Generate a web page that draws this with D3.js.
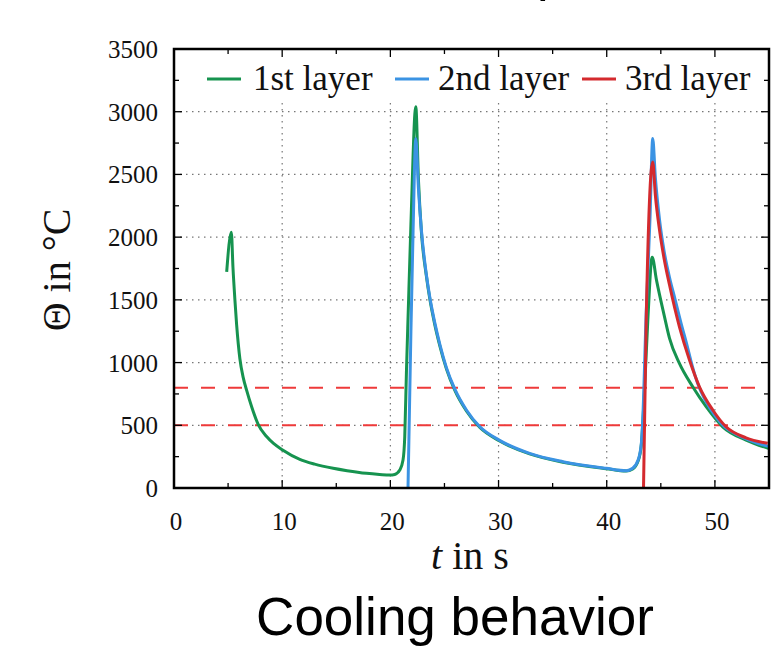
<!DOCTYPE html>
<html><head><meta charset="utf-8">
<script src="https://cdn.jsdelivr.net/npm/d3@7"></script>
<style>
body{margin:0;background:#fff;}
svg{display:block;}
</style>
</head><body>
<svg id="chart" width="771" height="646"></svg>
<script>
// ---------- data ----------
const seriesNames = ["1st layer", "2nd layer", "3rd layer"];
const xTicks = [0, 10, 20, 30, 40, 50];
const yTicks = [0, 500, 1000, 1500, 2000, 2500, 3000, 3500];
const thresholdLines = [800, 500];

const t1 = [4.87, 5.3, 5.45, 5.63, 5.79, 5.94, 6.09, 6.4, 6.71, 7.17, 7.79, 8.56, 9.2, 10.04, 11.63, 13.0, 14.71, 16.0, 17.79, 19.0, 19.94, 20.4, 20.87, 21.17, 21.33, 21.49, 21.65, 21.9, 22.35,
  22.6, 22.87, 23.33, 23.64, 24.1, 24.56, 25.18, 25.95, 27.03, 28.25, 30.1, 32.87, 35.95, 39.95, 41.8, 42.4, 42.9, 43.2, 43.4, 43.8, 44.2,
  44.6, 45.3, 45.8, 46.72, 47.95, 49.19, 50.72, 52.88, 55.0];
const v1 = [1723, 2040, 1760, 1500, 1300, 1150, 1030, 880, 780, 650, 505, 410, 355, 303, 228, 190, 157, 138, 117, 108, 103, 108, 143, 223, 409, 940, 1400, 2100, 3040,
  2450, 2040, 1690, 1510, 1305, 1138, 950, 780, 614, 484, 375, 272, 206, 154, 135, 152, 215, 345, 620, 1340, 1840,
  1657, 1380, 1195, 993, 807, 648, 488, 382, 314];

const t2 = [21.63, 21.9, 22.1, 22.35, 22.6, 22.87, 23.33, 23.64, 24.1, 24.56, 25.18, 25.95, 27.03, 28.25, 30.1, 32.87, 35.95, 39.95, 41.8, 42.4, 42.9, 43.2, 43.3, 43.65, 44.0, 44.25,
  44.5, 44.88, 45.3, 45.8, 46.3, 46.85, 47.4, 47.9, 48.4, 49.2, 50.0, 50.9, 52.0, 53.0, 54.0, 55.0];
const v2 = [0, 1250, 2050, 2786, 2380, 2056, 1700, 1524, 1320, 1150, 960, 790, 622, 490, 380, 276, 210, 157, 138, 157, 223, 356, 488, 1400, 2150, 2786,
  2470, 2140, 1890, 1680, 1510, 1320, 1145, 975, 835, 685, 578, 488, 428, 388, 355, 331];

const t3 = [43.4, 43.65, 44.25, 44.5, 44.88, 45.3, 45.8, 46.72, 47.65, 48.57, 49.8, 51.03, 52.88, 54.88];
const v3 = [0, 1340, 2600, 2330, 2056, 1830, 1620, 1285, 1020, 807, 622, 488, 400, 356];

const colors = ["#16934f", "#3b93e3", "#d42a2e"];

// ---------- layout ----------
const svg = d3.select("#chart");
const L = 174, R = 769, T = 49, B = 488;
const x = d3.scaleLinear().domain([0, 55]).range([L, R]);
const y = d3.scaleLinear().domain([0, 3500]).range([B, T]);

svg.append("defs").append("clipPath").attr("id", "clip")
  .append("rect").attr("x", L).attr("y", T).attr("width", R - L).attr("height", B - T);

// grid
const grid = svg.append("g");
grid.selectAll("line.gx").data(xTicks.filter(d => d > 0)).join("line")
  .attr("x1", d => x(d)).attr("x2", d => x(d)).attr("y1", T).attr("y2", B)
  .attr("stroke", "#777").attr("stroke-width", 1.2).attr("stroke-dasharray", "1.5,4.5");
grid.selectAll("line.gy").data(yTicks.filter(d => d > 0 && d < 3500)).join("line")
  .attr("y1", d => y(d)).attr("y2", d => y(d)).attr("x1", L).attr("x2", R)
  .attr("stroke", "#777").attr("stroke-width", 1.2).attr("stroke-dasharray", "1.5,4.5");

// legend background covering grid
svg.append("rect").attr("x", L + 1).attr("y", T + 1).attr("width", R - L - 2).attr("height", 101 - T).attr("fill", "#fff");

// threshold lines
svg.selectAll("line.th").data(thresholdLines).join("line")
  .attr("x1", L).attr("x2", R).attr("y1", d => y(d)).attr("y2", d => y(d))
  .attr("stroke", "#ee3a3a").attr("stroke-width", 2).attr("stroke-dasharray", "14,13");

// curves
const line = d3.line().x(d => x(d[0])).y(d => y(d[1])).curve(d3.curveMonotoneX);
const series = [d3.zip(t1, v1), d3.zip(t2, v2), d3.zip(t3, v3)];
const gCurves = svg.append("g").attr("clip-path", "url(#clip)");
series.forEach((s, i) => {
  gCurves.append("path").datum(s).attr("d", line)
    .attr("fill", "none").attr("stroke", colors[i]).attr("stroke-width", 3)
    .attr("stroke-linejoin", "round");
});

// ticks (inward, all four sides)
const tk = svg.append("g").attr("stroke", "#000").attr("stroke-width", 1.3);
const xMinor = d3.range(0, 56, 5);
const yMinor = d3.range(0, 3501, 250);
xMinor.forEach(v => {
  const len = v % 10 === 0 ? 8 : 5;
  tk.append("line").attr("x1", x(v)).attr("x2", x(v)).attr("y1", B).attr("y2", B - len);
  tk.append("line").attr("x1", x(v)).attr("x2", x(v)).attr("y1", T).attr("y2", T + len);
});
yMinor.forEach(v => {
  const len = v % 500 === 0 ? 8 : 5;
  tk.append("line").attr("y1", y(v)).attr("y2", y(v)).attr("x1", L).attr("x2", L + len);
  tk.append("line").attr("y1", y(v)).attr("y2", y(v)).attr("x1", R).attr("x2", R - len);
});

// frame
svg.append("rect").attr("x", L).attr("y", T).attr("width", R - L).attr("height", B - T)
  .attr("fill", "none").attr("stroke", "#000").attr("stroke-width", 2.5);

// tick labels
const serif = "'Liberation Serif','DejaVu Serif',serif";
svg.selectAll("text.xl").data(xTicks).join("text")
  .attr("x", d => x(d) + 2).attr("y", 530).attr("text-anchor", "middle")
  .attr("font-family", serif).attr("font-size", 25).attr("fill", "#111").text(d => d);
svg.selectAll("text.yl").data(yTicks).join("text")
  .attr("x", 158).attr("y", d => y(d) + 9).attr("text-anchor", "end")
  .attr("font-family", serif).attr("font-size", 25).attr("fill", "#111").text(d => d);

// legend
const legX = [[207, 253], [395, 438], [582, 625]];
seriesNames.forEach((n, i) => {
  svg.append("line").attr("x1", legX[i][0]).attr("x2", legX[i][0] + 34).attr("y1", 79).attr("y2", 79)
    .attr("stroke", colors[i]).attr("stroke-width", 3);
  svg.append("text").attr("x", legX[i][1]).attr("y", 90).attr("font-family", serif)
    .attr("font-size", 35).attr("fill", "#111").text(n);
});

// axis titles
const xl = svg.append("text").attr("x", 470).attr("y", 569).attr("text-anchor", "middle")
  .attr("font-family", serif).attr("font-size", 40).attr("fill", "#111");
xl.append("tspan").attr("font-style", "italic").text("t");
xl.append("tspan").text(" in s");

svg.append("text").attr("transform", "translate(70,270) rotate(-90)").attr("text-anchor", "middle")
  .attr("font-family", serif).attr("font-size", 40).attr("fill", "#111").text("Θ in °C");

// caption
svg.append("text").attr("x", 455).attr("y", 635).attr("text-anchor", "middle")
  .attr("font-family", "'Liberation Sans',Arial,sans-serif").attr("font-size", 53).attr("fill", "#000")
  .text("Cooling behavior");

// cut-off title fragment at top
svg.append("text").attr("x", 537).attr("y", -10)
  .attr("font-family", "'Liberation Sans',Arial,sans-serif").attr("font-size", 52).attr("fill", "#000")
  .text("p");
</script>
</body></html>
